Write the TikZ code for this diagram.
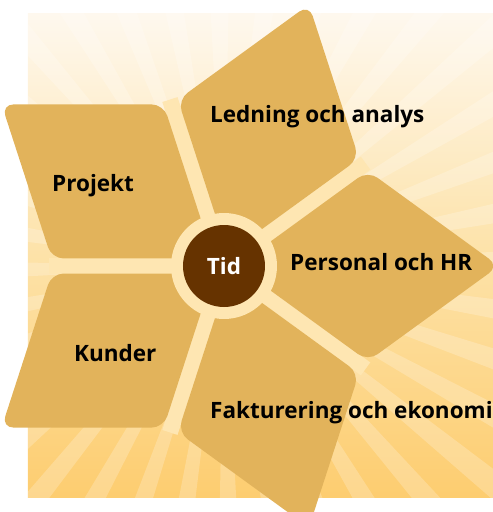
\documentclass[tikz,border=0pt]{standalone}
\usepackage{fontspec}
\setmainfont{Open Sans}
\definecolor{petalgold}{RGB}{226,179,91}
\definecolor{ringcream}{RGB}{254,230,178}
\definecolor{tidbrown}{RGB}{102,51,0}
\definecolor{bgtop}{RGB}{254,248,238}
\definecolor{bgmid}{RGB}{253,226,168}
\definecolor{bgbottom}{RGB}{253,205,112}
\tikzset{petal/.style={fill=petalgold,rounded corners=12pt},
  spoke/.style={draw=ringcream,line width=16pt},
  ray/.style={fill=white,opacity=0.22},
  petal text/.style={font=\bfseries\fontsize{22.5}{26}\selectfont,anchor=base west,inner sep=0pt},}

\begin{document}
\begin{tikzpicture}[x=1pt,y=1pt]
    \useasboundingbox (-224,-246) rectangle (269,266);
    % background and rays
    \begin{scope}
        \clip (-196,-231) rectangle (269,252);
        \shade[top color=bgtop,bottom color=bgbottom,middle color=bgmid] (-196,-231) rectangle (269,252);
        \foreach \a in {1,11,...,351}
            \fill[ray] (0,0) -- (\a-2:500) -- (\a+2:500) -- cycle;
    \end{scope}
    % gaps between the petals
    \foreach \a in {180,108,36,-36,-108}
        \draw[spoke] (0,0) -- (\a:175);
    % petals
    \foreach \a in {144,72,0,-72,-144}
        \fill[petal] (\a:12.8) -- ++(\a-36:162) -- ++(\a+36:162) -- ++(\a+144:162) -- cycle;
    \fill[ringcream] (0,0) circle (53);
    \node[circle,fill=tidbrown,minimum size=82pt,inner sep=0pt,text=white,font=\bfseries\fontsize{22.5}{26}\selectfont] (tid) at (0,0) {Tid};

    \node[petal text] (ledning) at (-14,143) {Ledning och analys};
    \node[petal text] (projekt) at (-172,75) {Projekt};
    \node[petal text] (personal) at (66,-4.7) {Personal och HR};
    \node[petal text] (kunder) at (-150,-95.7) {Kunder};
    \node[petal text] (faktura) at (-14,-152) {Fakturering och ekonomi};
\end{tikzpicture}
\end{document}
